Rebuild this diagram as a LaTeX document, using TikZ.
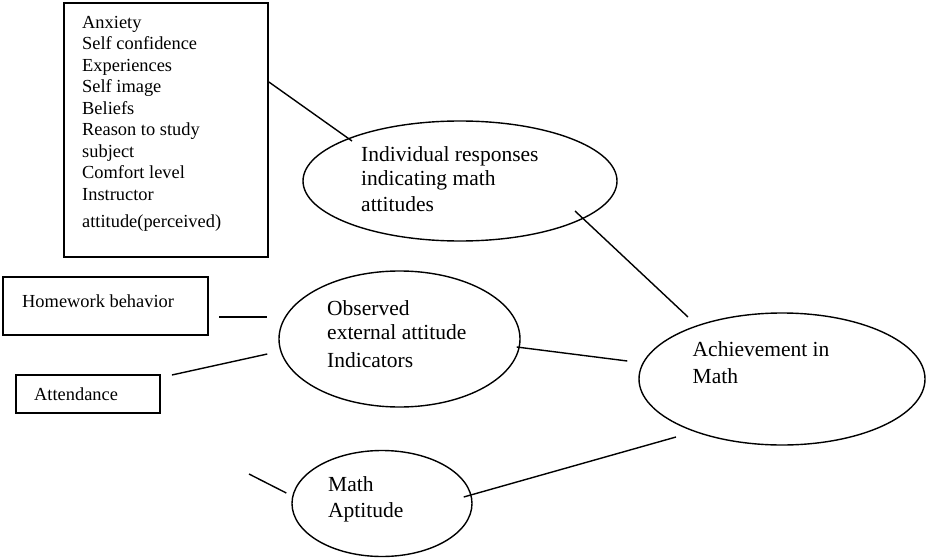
\documentclass[tikz,border=0pt]{standalone}
\usepackage{fontspec}
\setmainfont{Liberation Serif}
\usetikzlibrary{shapes.geometric,calc}

\tikzset{
  listbox/.style={draw, line width=1.8pt, rectangle, inner sep=0pt, anchor=center},
  bubble/.style={draw, line width=1.4pt, ellipse, inner sep=0pt, anchor=center},
  link/.style={line width=1.4pt},
  % multi-line texts are placed by the baseline of their last line
  smalltext/.style={inner sep=0pt, anchor=base west, align=left,
    font=\fontsize{18.4}{21.5}\selectfont},
  bigtext/.style={inner sep=0pt, anchor=base west, align=left},
}

\begin{document}
\begin{tikzpicture}[x=1pt, y=-1pt]
  \useasboundingbox (0,0) rectangle (926,559);

  % rectangular boxes
  \node[listbox, minimum width=204pt, minimum height=254pt] (list) at (166,130) {};
  \node[listbox, minimum width=205pt, minimum height=58pt] (hw) at (105.5,306) {};
  \node[listbox, minimum width=144pt, minimum height=38pt] (att) at (88,394) {};

  % ellipses
  \node[bubble, minimum width=314pt, minimum height=120pt] (ind) at (460,181) {};
  \node[bubble, minimum width=241pt, minimum height=136pt] (obs) at (399.5,339) {};
  \node[bubble, minimum width=180pt, minimum height=106pt] (apt) at (382,503.5) {};
  \node[bubble, minimum width=286pt, minimum height=132pt] (ach) at (782,379) {};

  % texts of the boxes
  \node[smalltext] (listtext) at (82,227) {Anxiety\\Self confidence\\Experiences\\Self image\\Beliefs\\Reason to study\\subject\\Comfort level\\Instructor\\[5.5pt]attitude(perceived)};
  \node[smalltext] (hwtext) at (22,307) {Homework behavior};
  \node[smalltext] (atttext) at (34,400) {Attendance};

  % texts of the ellipses
  \node[bigtext, font=\fontsize{21.5}{25}\selectfont] (indtext) at (361,211) {Individual responses\\indicating math\\attitudes};
  \node[bigtext, font=\fontsize{21.5}{24}\selectfont] (obstext) at (327,367) {Observed\\external attitude\\[4pt]Indicators};
  \node[bigtext, font=\fontsize{21.5}{26}\selectfont] (apttext) at (328,517) {Math\\Aptitude};
  \node[bigtext, font=\fontsize{21.5}{27.5}\selectfont] (achtext) at (692.5,383.5) {Achievement in\\Math};

  % free end of the short stroke left of the aptitude ellipse
  \coordinate (aptin) at (249,474);

  % connectors
  \draw[link] ($(list.east)+(0,-48)$) -- ($(ind.center)+(-108,-40)$);
  \draw[link] ($(ind.center)+(115,30)$) -- ($(ach.center)+(-94,-62)$);
  \draw[link] ($(hw.east)+(10.5,11)$) -- ($(obs.west)+(-11,-22)$);
  \draw[link] ($(att.east)+(11,-19)$) -- ($(obs.west)+(-11,15)$);
  \draw[link] ($(obs.east)+(-4,8)$) -- ($(ach.west)+(-11,-18)$);
  \draw[link] (aptin) -- ($(apt.west)+(-5,-10.5)$);
  \draw[link] ($(apt.east)+(-9,-6.5)$) -- ($(ach.center)+(-106,58)$);
\end{tikzpicture}
\end{document}
